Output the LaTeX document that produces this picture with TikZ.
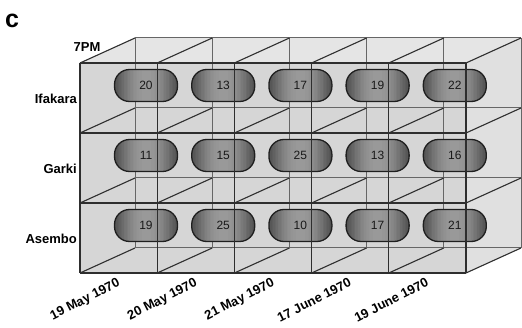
\documentclass[tikz,border=0pt]{standalone}
\usepackage{fontspec}
\setmainfont{Liberation Sans}
\usetikzlibrary{positioning}

\begin{document}
\begin{tikzpicture}[x=1pt,y=-1pt,
  grid/.style={line width=1.1pt,draw=black!82},
  backgrid/.style={line width=1pt,draw=black!60},
  pill/.style={draw=black!88,line width=1.3pt,rounded corners=15pt,
    minimum width=63pt,minimum height=32pt,
    font=\fontsize{12}{14}\selectfont,text=black!90},
  lab/.style={font=\fontsize{13}{15}\selectfont\bfseries,inner sep=1pt}]
  \useasboundingbox (0,0) rectangle (522,328);

  % glass box, back faces first
  \fill[black!16] (80,63) -- (135,38) -- (521,38) -- (521,248) -- (466,273) -- (80,273) -- cycle;
  \fill[black!10] (80,63) -- (135,38) -- (521,38) -- (466,63) -- cycle;
  \fill[black!12] (466,63) -- (521,38) -- (521,248) -- (466,273) -- cycle;
  \foreach \i in {0,...,5} {\draw[backgrid] (135+\i*77.2,38) -- ++(0,210);}
  \foreach \j in {0,...,3} {\draw[backgrid] (135,38+\j*70) -- ++(386,0);}
  \foreach \i in {0,...,5}
    \foreach \j in {0,...,3} {\draw[grid] (80+\i*77.2,63+\j*70) -- ++(55,-25);}

  % counts per site and night, shaded by stripes
  \foreach \r/\vals in {0/{20,13,17,19,22},1/{11,15,25,13,16},2/{19,25,10,17,21}}
    \foreach \v [count=\c from 0] in \vals {
      \pgfmathsetmacro\px{146+\c*77.2}
      \pgfmathsetmacro\py{85.5+\r*70}
      \begin{scope}
        \clip[rounded corners=15pt] (\px-31.5,\py-16) rectangle ++(63,32);
        \foreach \k in {0,...,41} {
          \pgfmathsetmacro\g{int(70-30*sin(180*(\k+0.5)/42))}
          \fill[black!\g] (\px-31.5+\k*1.5,\py-16) rectangle ++(1.8,32);
        }
      \end{scope}
      \node[pill] (p\r\c) at (\px,\py) {\v};
    }

  % front face over the pills
  \foreach \i in {0,...,5} {\draw[grid] (80+\i*77.2,63) -- ++(0,210);}
  \foreach \j in {0,...,3} {\draw[grid] (80,63+\j*70) -- ++(386,0);}

  \node[font=\fontsize{25}{28}\selectfont\bfseries] (panel) at (12,21) {c};
  \node[lab] (time) at (87,47) {7PM};
  \foreach \r/\n in {0/Ifakara,1/Garki,2/Asembo}
    {\node[lab,anchor=east] (site\r) at (78,99+\r*70) {\n};}
  \foreach \c/\d in {0/19 May 1970,1/20 May 1970,2/21 May 1970,3/17 June 1970,4/19 June 1970}
    {\node[lab,rotate=27,anchor=north east] (date\c) at (117+\c*77.2,276) {\d};}
\end{tikzpicture}
\end{document}
